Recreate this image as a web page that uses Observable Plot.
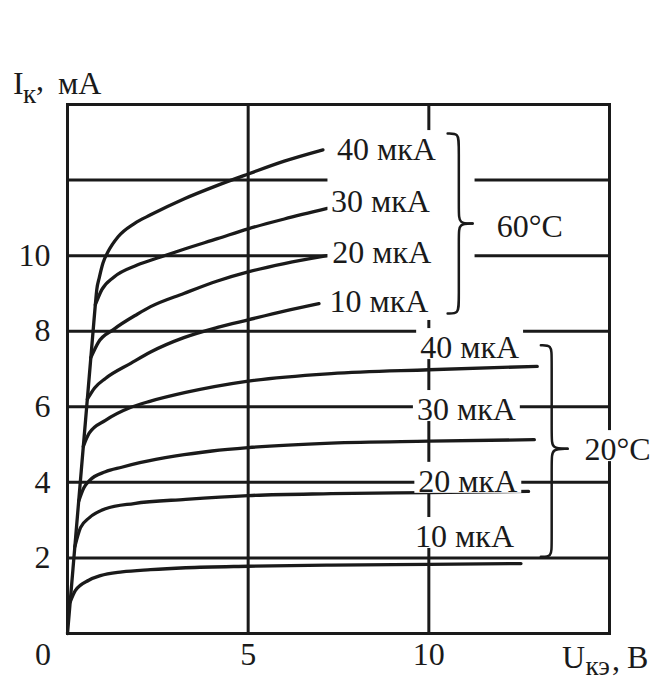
<!DOCTYPE html>
<html><head><meta charset="utf-8">
<script src="https://cdn.jsdelivr.net/npm/d3@7"></script>
<script src="https://cdn.jsdelivr.net/npm/@observablehq/plot@0.6"></script>
<style>body{margin:0;background:#fff}</style>
</head><body><div id="chart"></div>
<script>
// Output characteristics: [U_кэ (В), I_к (мА)]
const ib40_60 = [[0,0],[0.078,0.88],[0.177,2.0],[0.283,3.2],[0.367,4.15],[0.46,5.2],[0.549,6.2],[0.646,7.3],[0.708,8.0],[0.77,8.7],[0.81,9.1],[0.88,9.42],[0.98,9.8],[1.12,10.1],[1.4,10.5],[1.85,10.85],[2.3,11.08],[3.22,11.5],[4.15,11.86],[5.0,12.16],[6.0,12.5],[7.07,12.8]];
const ib30_60 = [[0.77,8.7],[0.95,9.1],[1.28,9.43],[1.93,9.75],[2.6,9.97],[3.22,10.17],[4.15,10.45],[5.0,10.71],[6.0,10.97],[7.19,11.25]];
const ib20_60 = [[0.646,7.3],[0.85,7.7],[1.28,8.05],[1.93,8.45],[2.3,8.65],[3.22,9.0],[4.15,9.33],[5.0,9.57],[6.0,9.79],[7.19,10.0]];
const ib10_60 = [[0.549,6.2],[0.75,6.5],[1.05,6.75],[1.75,7.15],[2.3,7.45],[3.22,7.83],[4.15,8.1],[5.0,8.3],[6.0,8.53],[6.96,8.73]];
const ib40_20 = [[0.438,4.95],[0.6,5.3],[1.05,5.64],[1.74,5.98],[2.3,6.15],[3.27,6.38],[5.0,6.68],[7.3,6.88],[10,6.98],[13.0,7.07]];
const ib30_20 = [[0.31,3.5],[0.45,3.85],[0.6,4.04],[1.05,4.28],[1.5,4.4],[2.0,4.52],[3.0,4.7],[4.0,4.83],[5.0,4.92],[7.3,5.04],[10,5.09],[12.92,5.13]];
const ib20_20 = [[0.204,2.3],[0.36,2.8],[0.6,3.06],[1.05,3.3],[1.84,3.44],[3.27,3.55],[5.0,3.65],[7.3,3.7],[10,3.73],[12.76,3.76]];
const ib10_20 = [[0.0735,0.83],[0.22,1.14],[0.59,1.41],[0.91,1.53],[1.51,1.63],[2.3,1.69],[3.27,1.74],[5.0,1.78],[7.3,1.81],[10,1.83],[12.55,1.85]];

const curveNames = ["40 мкА 60°C","30 мкА 60°C","20 мкА 60°C","10 мкА 60°C","40 мкА 20°C","30 мкА 20°C","20 мкА 20°C","10 мкА 20°C"];
const curveData = [ib40_60, ib30_60, ib20_60, ib10_60, ib40_20, ib30_20, ib20_20, ib10_20];

// Axis ticks and grid
const xTicks = [5, 10];
const yTicks = [2, 4, 6, 8, 10];
const xGrid = [5, 10];
const yGrid = [2, 4, 6, 8, 10, 12];

// Curve labels (base current)
const baseCurrents = ["40 мкА", "30 мкА", "20 мкА", "10 мкА"];
const label60X = [7.46, 7.29, 7.33, 7.25];
const label60Y = [12.8, 11.43, 10.07, 8.78];
const label20X = [9.76, 9.67, 9.71, 9.62];
const label20Y = [7.56, 5.92, 4.02, 2.56];

// Temperature labels and braces
const tempLabels = ["60°C", "20°C"];
const tempX = [11.88, 14.31];
const tempY = [10.76, 4.86];
const brace60 = {xh: 10.52, xv: 10.83, xt: 11.21, yt: 13.23, yb: 8.47, ym: 10.85};
const brace20 = {xh: 13.1, xv: 13.4, xt: 13.84, yt: 7.63, yb: 2.03, ym: 4.89};

const ink = "#1a1a1a";
const font = "'Liberation Serif', 'Times New Roman', serif";

const rows = curveData.flatMap((pts, i) => pts.map(([u, ik]) => ({curve: curveNames[i], u, ik})));
function braceRows(b) {
  const r = 0.3;
  const up = [[b.xh,b.yt],[b.xv,b.yt],[b.xv,b.yt-r],[b.xv,b.ym+r],[b.xv,b.ym],[b.xt,b.ym]];
  const dn = [[b.xt,b.ym],[b.xv,b.ym],[b.xv,b.ym-r],[b.xv,b.yb+r],[b.xv,b.yb],[b.xh,b.yb]];
  return [...up.map(([x,y]) => ({x, y, z: "u"})), ...dn.map(([x,y]) => ({x, y, z: "d"}))];
}
const lab60 = baseCurrents.map((t, i) => ({t, x: label60X[i], y: label60Y[i]}));
const lab20 = baseCurrents.map((t, i) => ({t, x: label20X[i], y: label20Y[i]}));
const temps = tempLabels.map((t, i) => ({t, x: tempX[i], y: tempY[i]}));

const T = (s, o) => Plot.text([s], {text: d => d, textAnchor: "start", lineAnchor: "middle", fill: ink, fontSize: 32, ...o});

const chart = Plot.plot({
  width: 653, height: 681,
  marginLeft: 67, marginRight: 44, marginTop: 104, marginBottom: 48,
  style: {fontFamily: font, fontSize: "32px", color: ink, background: "#fff"},
  x: {domain: [0, 15], axis: null},
  y: {domain: [0, 14], axis: null},
  marks: [
    Plot.ruleX(xGrid, {stroke: ink, strokeWidth: 3}),
    Plot.ruleY(yGrid, {stroke: ink, strokeWidth: 3}),
    Plot.frame({stroke: ink, strokeWidth: 3}),
    Plot.line(rows, {x: "u", y: "ik", z: "curve", curve: "monotone-x", stroke: ink, strokeWidth: 3.3, strokeLinecap: "round"}),
    Plot.line(braceRows(brace60), {x: "x", y: "y", z: "z", curve: "basis", stroke: ink, strokeWidth: 2.5}),
    Plot.text(lab60, {x: "x", y: "y", text: "t", textAnchor: "start", lineAnchor: "middle", fill: ink, fontSize: 32}),
    Plot.line(braceRows(brace20), {x: "x", y: "y", z: "z", curve: "basis", stroke: ink, strokeWidth: 2.5}),
    Plot.text(lab20, {x: "x", y: "y", text: "t", textAnchor: "start", lineAnchor: "middle", fill: ink, fontSize: 32}),
    Plot.text(temps, {x: "x", y: "y", text: "t", textAnchor: "start", lineAnchor: "middle", fill: ink, fontSize: 32}),
    Plot.axisX(xTicks, {tickSize: 0, tickPadding: 9, label: null, fill: ink, fontSize: 32}),
    Plot.axisY(yTicks, {tickSize: 0, tickPadding: 17, label: null, fill: ink, fontSize: 32}),
    Plot.text(["0"], {frameAnchor: "bottom-left", text: d => d, dx: -24.5, dy: 9, lineAnchor: "top", textAnchor: "middle", fill: ink, fontSize: 32}),
    // y title: I_к, мА
    T("I", {frameAnchor: "top-left", dx: -54.5, dy: -21.2}),
    T("к", {frameAnchor: "top-left", dx: -44.5, dy: -10.6, fontSize: 27}),
    T(",", {frameAnchor: "top-left", dx: -31.5, dy: -25.2}),
    T("мА", {frameAnchor: "top-left", dx: -9.5, dy: -21.2}),
    // x title: U_кэ, В
    T("U", {frameAnchor: "bottom-right", dx: -47.5, dy: 24}),
    T("кэ", {frameAnchor: "bottom-right", dx: -24, dy: 33, fontSize: 27}),
    T(",", {frameAnchor: "bottom-right", dx: 2.5, dy: 26}),
    T("В", {frameAnchor: "bottom-right", dx: 17.5, dy: 24})
  ]
});
document.getElementById("chart").append(chart);

// white boxes behind labels (they interrupt the grid lines)
const svgRect = chart.getBoundingClientRect();
function rel(r) { return {x0: r.left - svgRect.left, y0: r.top - svgRect.top, x1: r.right - svgRect.left, y1: r.bottom - svgRect.top}; }
function addRect(before, b, px, pTop, pBottom) {
  const rect = document.createElementNS("http://www.w3.org/2000/svg", "rect");
  rect.setAttribute("x", b.x0 - px); rect.setAttribute("y", b.y0 - pTop);
  rect.setAttribute("width", b.x1 - b.x0 + 2 * px); rect.setAttribute("height", b.y1 - b.y0 + pTop + pBottom);
  rect.setAttribute("fill", "#fff");
  chart.insertBefore(rect, before);
}
function topGroup(el) { while (el && el.parentNode !== chart) el = el.parentNode; return el; }
const allTexts = Array.from(chart.querySelectorAll("text"));
const labelGroups = [];
allTexts.forEach(t => {
  if (baseCurrents.includes(t.textContent)) {
    const g = topGroup(t);
    if (g && !labelGroups.includes(g)) labelGroups.push(g);
  }
});
const g60 = labelGroups[0], g20 = labelGroups[1];
if (g60) {
  const gBrace = g60.previousElementSibling;
  const a = rel(gBrace.getBoundingClientRect()), b = rel(g60.getBoundingClientRect());
  addRect(gBrace, {x0: Math.min(a.x0, b.x0), y0: Math.min(a.y0, b.y0), x1: Math.max(a.x1, b.x1), y1: Math.max(a.y1, b.y1)}, 2, 1, 1);
}
if (g20) {
  const gTemp = g20.nextElementSibling;
  [g20, gTemp].forEach(g => g.querySelectorAll("text").forEach(t => addRect(g, rel(t.getBoundingClientRect()), 4, 1, -6)));
}
</script>
</body></html>
